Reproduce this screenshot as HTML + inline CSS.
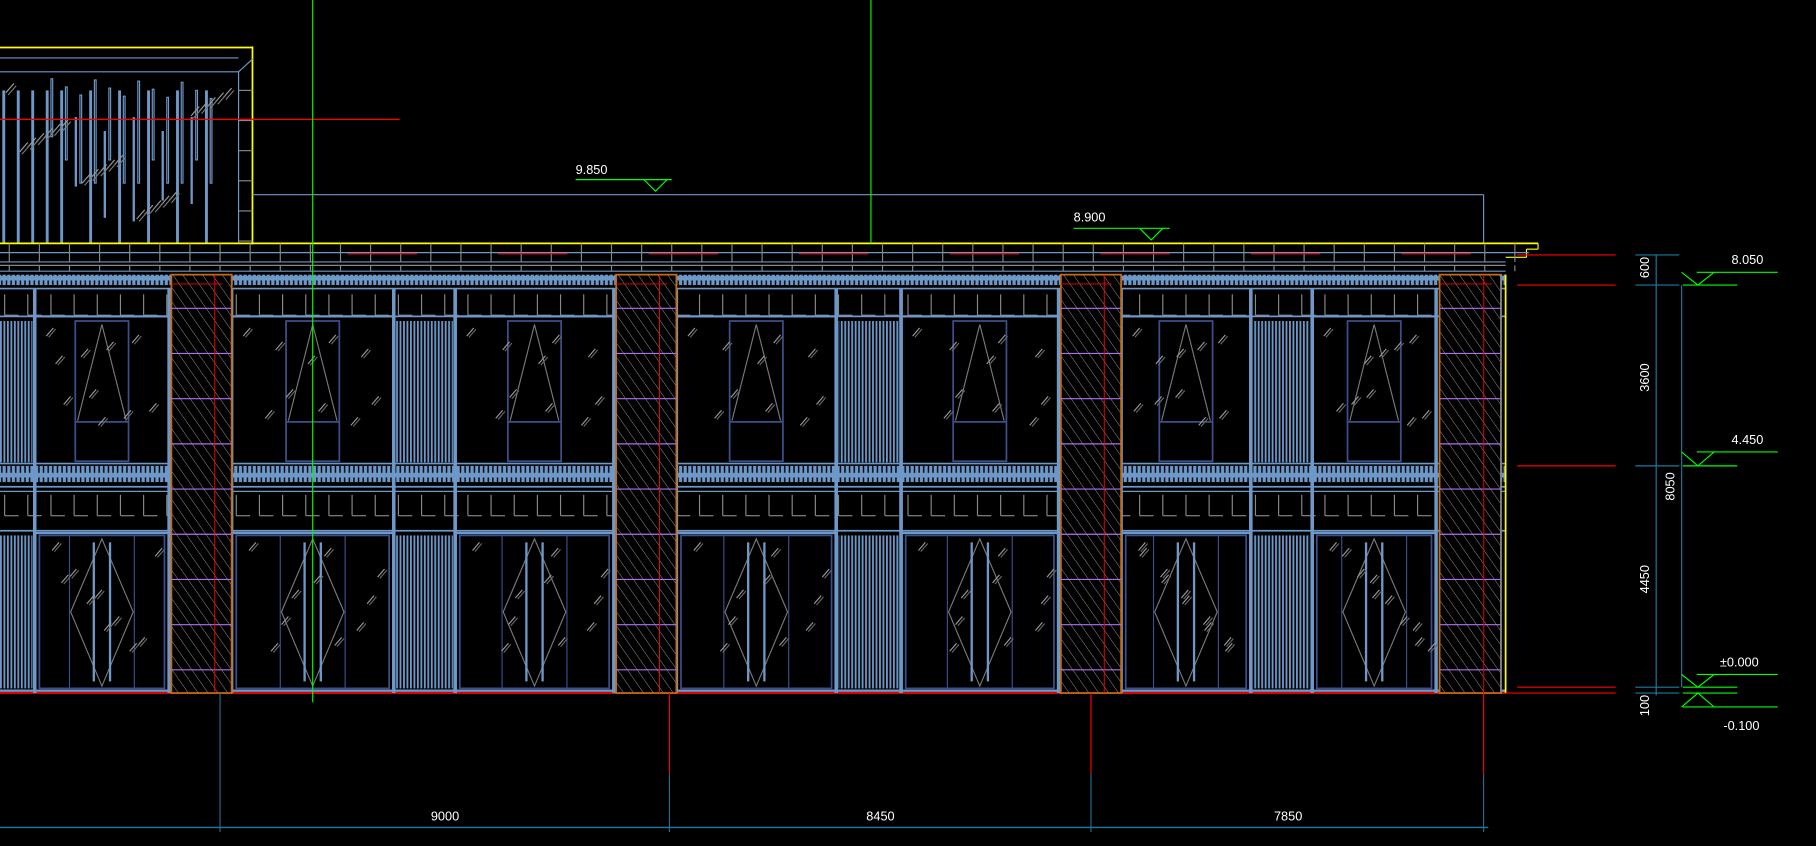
<!DOCTYPE html>
<html><head><meta charset="utf-8">
<style>
html,body{margin:0;padding:0;background:#000;overflow:hidden}
svg{display:block}
text{font-family:"Liberation Sans Narrow","Liberation Sans",sans-serif;fill:#fff;font-size:11px}
</style></head>
<body>
<svg id="s" width="1816" height="846" viewBox="0 0 1568 730" preserveAspectRatio="none" xmlns="http://www.w3.org/2000/svg">
<defs>
<pattern id="hatch" width="7" height="7" patternUnits="userSpaceOnUse" patternTransform="rotate(-35)">
<rect width="7" height="7" fill="#000"/><line x1="0" y1="0" x2="0" y2="7" stroke="#999" stroke-width="0.8"/>
</pattern>
<pattern id="stripe" width="3" height="6" patternUnits="userSpaceOnUse">
<rect width="3" height="6" fill="#000"/><rect x="0" width="1.6" height="6" fill="#6e98c8"/>
</pattern>
<pattern id="tick" width="4" height="10" patternUnits="userSpaceOnUse">
<rect width="4" height="10" fill="#6e98c8"/><rect x="1" y="2" width="1.2" height="6" fill="#000"/>
</pattern>
</defs>
<rect width="1568" height="730" fill="#000"/>
<g id="g"></g>
<text x="497" y="150" font-size="10">9.850</text>
<text x="927" y="191" font-size="10">8.900</text>
<text x="1495" y="228" font-size="11">8.050</text>
<text x="1495" y="383" font-size="11">4.450</text>
<text x="1485" y="575" font-size="11">±0.000</text>
<text x="1488" y="630" font-size="11">-0.100</text>
<text x="372" y="708" font-size="11">9000</text>
<text x="748" y="708" font-size="11">8450</text>
<text x="1100" y="708" font-size="11">7850</text>
<text transform="translate(1424,240) rotate(-90)" font-size="10">600</text>
<text transform="translate(1424,338) rotate(-90)" font-size="10">3600</text>
<text transform="translate(1424,512) rotate(-90)" font-size="10">4450</text>
<text transform="translate(1424,618) rotate(-90)" font-size="10">100</text>
<text transform="translate(1446,432) rotate(-90)" font-size="10">8050</text>
</svg>
<script>
const g=document.getElementById('g');let h='';
const L=(x1,y1,x2,y2,c,w)=>{h+=`<line x1="${x1}" y1="${y1}" x2="${x2}" y2="${y2}" stroke="${c}" stroke-width="${w||1}"/>`};
const R=(x,y,w,hh,f,s,sw)=>{h+=`<rect x="${x}" y="${y}" width="${w}" height="${hh}" fill="${f||'none'}" stroke="${s||'none'}" stroke-width="${sw||1}"/>`};
const B='#6e98c8',DB='#3d4f8a',GR='#888';
// tower
R(0,40,218,170,'#000');
L(0,41,218,41,'yellow',1.5);L(218,40,218,211,'yellow',1.5);
L(0,50,206,50,B);L(0,62,206,62,B);L(206,62,206,210,B);L(206,62,218,51,B);
for(let y=78;y<210;y+=26)L(206,y,218,y,GR);
for(let i=0;i<15;i++){let x=2+i*12.5; if(i<5||i%2==0){R(x,78,2.5,132,B)}else{R(x,95+(i%4)*6,2,90-(i%3)*15,B)}}
for(let i=0;i<12;i++){let x=44+i*12.5;R(x,68+(i*7)%20,1.5,50+(i*13)%40,'none',B)}
for(let k=0;k<22;k++){let sx=5+(k*47)%195, sy=80+(k*31)%120;L(sx,sy,sx+7,sy-8,'#999');L(sx+2,sy+2,sx+9,sy-6,'#777')}
L(0,103,345,103,'red');L(218,168,1281,168,B);L(1281,168,1281,210,B);
L(497,155,580,155,'#0f0');h+=`<polyline points="556,155 566,165 576,155" fill="none" stroke="#0f0"/>`;
L(927,197,1010,197,'#0f0');h+=`<polyline points="984,197 994,207 1004,197" fill="none" stroke="#0f0"/>`;
// roof band
L(0,210,1328,210,'yellow',1.5);L(1328,210,1328,215,'yellow');L(1328,215,1318,215,'yellow');L(1318,215,1318,222,'yellow');L(1318,222,1300,222,'yellow');
L(0,218,1320,218,B);L(0,226,1300,226,B);L(0,229,1300,229,GR);L(0,234,1300,234,B);
for(let x=8;x<1310;x+=26){L(x,210,x,226,GR);L(x,229,x,234,GR)}
for(let x=300;x<1290;x+=130)L(x,219,x+60,219,'red');
// main facade bands
R(0,237,1300,9,'url(#tick)');R(0,402,1300,14,'url(#tick)');
L(0,249,1300,249,B,1.5);L(0,400,1300,400,B,1.5);L(0,420,1300,420,B,1.5);L(0,424,1300,424,B);
for(let yy of [252,425]){for(let x=4;x<1296;x+=20){L(x,yy+2,x,yy+20,GR);L(x,yy+20,x+12,yy+20,GR)}}
L(0,273,1300,273,B,1.5);L(0,458,1300,458,B,1.5);
L(0,598,1300,598,'red',1.5);L(0,596,1300,596,B,2);
function unit(x1,x2){
  L(x1,249,x1,598,B,3);L(x2,249,x2,598,B,3);
  L(x1,273,x2,273,B,2);L(x1,460,x2,460,B,2);
  R(x1+2,275,x2-x1-4,124,'#000');R(x1+2,461,x2-x1-4,134,'#000');
  const c=(x1+x2)/2;
  R(c-23,277,46,121,'none',DB,1.5);L(c-23,364,c+23,364,DB,1.5);
  h+=`<polyline points="${c-21},363 ${c},280 ${c+21},363" fill="none" stroke="#777"/>`;
  R(x1+4,462,x2-x1-8,132,'none',DB,1.5);L(c-28,462,c-28,594,DB);L(c+28,462,c+28,594,DB);
  h+=`<polygon points="${c},465 ${c+27},528 ${c},592 ${c-27},528" fill="none" stroke="#777"/>`;
  R(c-8,468,2,120,B);R(c+6,468,2,120,B);
  for(let k=0;k<10;k++){let sx=x1+10+((k*37)%(x2-x1-20)), sy=290+((k*53)%100);L(sx,sy,sx+6,sy-7,'#999');L(sx+2,sy+1,sx+8,sy-6,'#666');let sy2=475+((k*41)%100);L(sx+5,sy2,sx+11,sy2-7,'#999');L(sx+7,sy2+1,sx+13,sy2-6,'#666')}
}
function stripe(x1,x2){R(x1+2,277,x2-x1-4,122,'url(#stripe)');R(x1+2,462,x2-x1-4,132,'url(#stripe)');L(x1,249,x1,598,B,3);L(x2,249,x2,598,B,3)}
function pillar(x1,x2){
  R(x1,237,x2-x1,361,'url(#hatch)','#c86a10',1.5);
  for(let y=266;y<590;y+=39)L(x1,y,x2,y,'#b070f0');
  const m=x1+(x2-x1)*0.72;L(m,237,m,598,'red',0.8);L(x1,245,x2-8,245,'red',0.8);
}
stripe(-4,30);unit(30,146);
unit(200,340);stripe(340,393);unit(393,530);
unit(584,722);stripe(722,778);unit(778,914);
unit(968,1080);stripe(1080,1133);unit(1133,1240);
pillar(148,200);pillar(532,584);pillar(916,968);pillar(1243,1296);
L(1300,237,1300,598,'yellow',1.5);L(1296,237,1296,598,B);
L(270,0,270,606,'#0f0');L(752,0,752,210,'#0f0');
L(190,598,190,718,'#2a6a8a');L(578,598,578,668,'red');L(578,668,578,718,'#2a6a8a');
L(942,598,942,668,'red');L(942,668,942,718,'#2a6a8a');L(1281,598,1281,668,'red');L(1281,668,1281,718,'#2a6a8a');
L(0,714,1285,714,'#1a7aa0',1.2);
for(let y of [220,246,402,593])L(1310,y,1395,y,'red');L(1300,598,1395,598,'red');
L(1430,220,1430,600,'#1a7aa0');L(1452,246,1452,593,'#1a7aa0');
for(let y of [220,246,402,593,598])L(1412,y,1450,y,'#1a7aa0');
function lv(y,t){L(1453,y,1500,y,'#0f0');L(1465,t,1535,t,'#0f0');h+=`<polyline points="1452,${t} 1466,${y} 1480,${t}" fill="none" stroke="#0f0"/>`}
lv(246,235);lv(402,390);lv(593,582);
L(1453,598,1500,598,'#0f0');L(1453,610,1535,610,'#0f0');h+=`<polyline points="1452,610 1466,598 1480,610" fill="none" stroke="#0f0"/>`;
g.innerHTML=h;
</script>
</body></html>
